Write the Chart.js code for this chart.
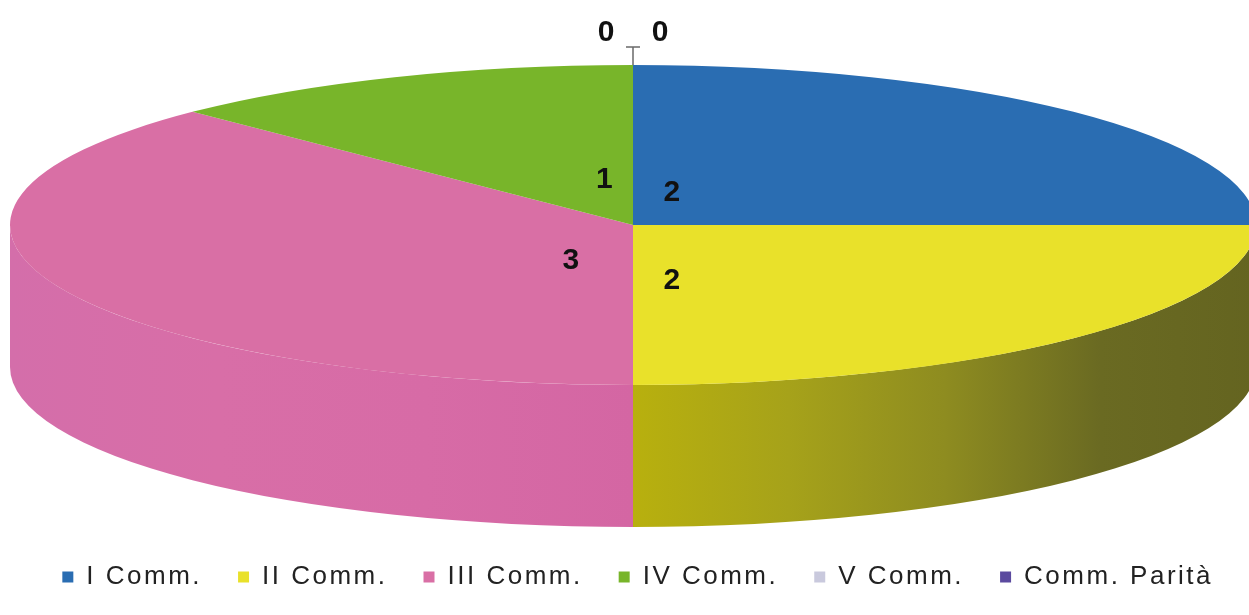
<!DOCTYPE html>
<html>
<head>
<meta charset="utf-8">
<script src="https://cdn.jsdelivr.net/npm/chart.js@4.4.1/dist/chart.umd.min.js"></script>
<style>
  html, body { margin: 0; padding: 0; background: #fff; overflow: hidden; }
  #wrap { position: relative; width: 1249px; height: 615px; }
</style>
</head>
<body>
<div id="wrap"><canvas id="pie"></canvas></div>
<script>
/* =========================
   DATA
========================= */
const categories = ["I Comm.", "II Comm.", "III Comm.", "IV Comm.", "V Comm.", "Comm. Parità"];
const values = [2, 2, 3, 1, 0, 0];

/* =========================
   STYLE
========================= */
const topColors = ["#2a6db2", "#e9e12a", "#d96fa5", "#78b52a", "#c9c9dd", "#5b4a9f"];
// side gradient stops, from the centre line out to the rim
const sideColors = [
  ["#1f5288", "#1a4270"],
  ["#b8b00e", "#a6a21a", "#8e8c20", "#6a6a22", "#646420"],
  ["#d466a3", "#d76ba6", "#d86ea7", "#d46eaa"],
  ["#5a8a1e", "#4c7418"],
  ["#a9a9bd", "#9999ad"],
  ["#463a80", "#3a306a"]
];

// flattened pie geometry (canvas px)
const CX = 633, CY = 225, RX = 623, RY = 160, DEPTH = 142;
const LABEL_R = 62, LABEL_DX = -5, LABEL_DY = 12;
const LABEL_FONT = 'bold 30px "Liberation Sans", Arial, sans-serif';
const LEGEND_SPACING = "2.5px";

/* =========================
   3D PLUGIN
========================= */
const pie3d = {
  id: "pie3d",
  // the legend text in the original is spaced out a bit
  beforeLayout(chart) { chart.ctx.letterSpacing = LEGEND_SPACING; },
  beforeDraw(chart) { chart.ctx.letterSpacing = LEGEND_SPACING; },

  beforeDatasetsDraw(chart) {
    const ctx = chart.ctx;
    const arcs = chart.getDatasetMeta(0).data;

    // side walls, only the front half (0..PI) is visible
    arcs.forEach((arc, i) => {
      const a = Math.max(arc.startAngle, 0);
      const b = Math.min(arc.endAngle, Math.PI);
      if (b <= a) return;

      const mid = (a + b) / 2;
      const dir = Math.cos(mid) >= 0 ? 1 : -1;
      const g = ctx.createLinearGradient(CX, 0, CX + dir * RX, 0);
      const stops = sideColors[i];
      stops.forEach((c, k) => g.addColorStop(k / (stops.length - 1), c));

      ctx.save();
      ctx.beginPath();
      ctx.ellipse(CX, CY, RX, RY, 0, a, b);
      ctx.ellipse(CX, CY + DEPTH, RX, RY, 0, b, a, true);
      ctx.closePath();
      ctx.fillStyle = g;
      ctx.fill();
      ctx.restore();
    });

    // squash the library's own arcs into the ellipse
    const first = arcs[0];
    const r = first.outerRadius;
    ctx.save();
    ctx.translate(CX, CY);
    ctx.scale(RX / r, RY / r);
    ctx.translate(-first.x, -first.y);
  },
  afterDatasetsDraw(chart) {
    const ctx = chart.ctx;
    ctx.restore();

    const arcs = chart.getDatasetMeta(0).data;
    ctx.save();
    ctx.letterSpacing = "0px";
    ctx.font = LABEL_FONT;
    ctx.fillStyle = "#111";
    ctx.textAlign = "center";
    ctx.textBaseline = "middle";

    let zeros = 0;
    arcs.forEach((arc, i) => {
      const mid = (arc.startAngle + arc.endAngle) / 2;
      if (values[i] > 0) {
        ctx.fillText(String(values[i]),
          CX + LABEL_R * Math.cos(mid) + LABEL_DX,
          CY + LABEL_R * Math.sin(mid) + LABEL_DY);
        return;
      }
      // zero slices: leader line out of the rim, labels either side
      const px = CX + RX * Math.cos(mid);
      const py = CY + RY * Math.sin(mid);
      if (zeros === 0) {
        ctx.strokeStyle = "#6a6a6a";
        ctx.lineWidth = 1.5;
        ctx.beginPath();
        ctx.moveTo(px, py);
        ctx.lineTo(px, py - 18);
        ctx.moveTo(px - 7, py - 18);
        ctx.lineTo(px + 7, py - 18);
        ctx.stroke();
      }
      const side = zeros === 0 ? -1 : 1;
      ctx.fillText("0", px + side * 27, py - 32);
      zeros++;
    });
    ctx.restore();
  }
};

/* =========================
   CHART
========================= */
new Chart(document.getElementById("pie"), {
  type: "pie",
  data: {
    labels: categories,
    datasets: [{
      data: values,
      backgroundColor: topColors,
      borderWidth: 0,
      clip: false
    }]
  },
  options: {
    responsive: true,
    maintainAspectRatio: false,
    animation: false,
    events: [],
    layout: { padding: { bottom: 15 } },
    plugins: {
      tooltip: { enabled: false },
      legend: {
        position: "bottom",
        align: "end",
        labels: {
          boxWidth: 11,
          boxHeight: 11,
          padding: 36,
          color: "#222",
          font: { family: '"Liberation Sans", Arial, sans-serif', size: 26 }
        }
      }
    }
  },
  plugins: [pie3d]
});
</script>
</body>
</html>
